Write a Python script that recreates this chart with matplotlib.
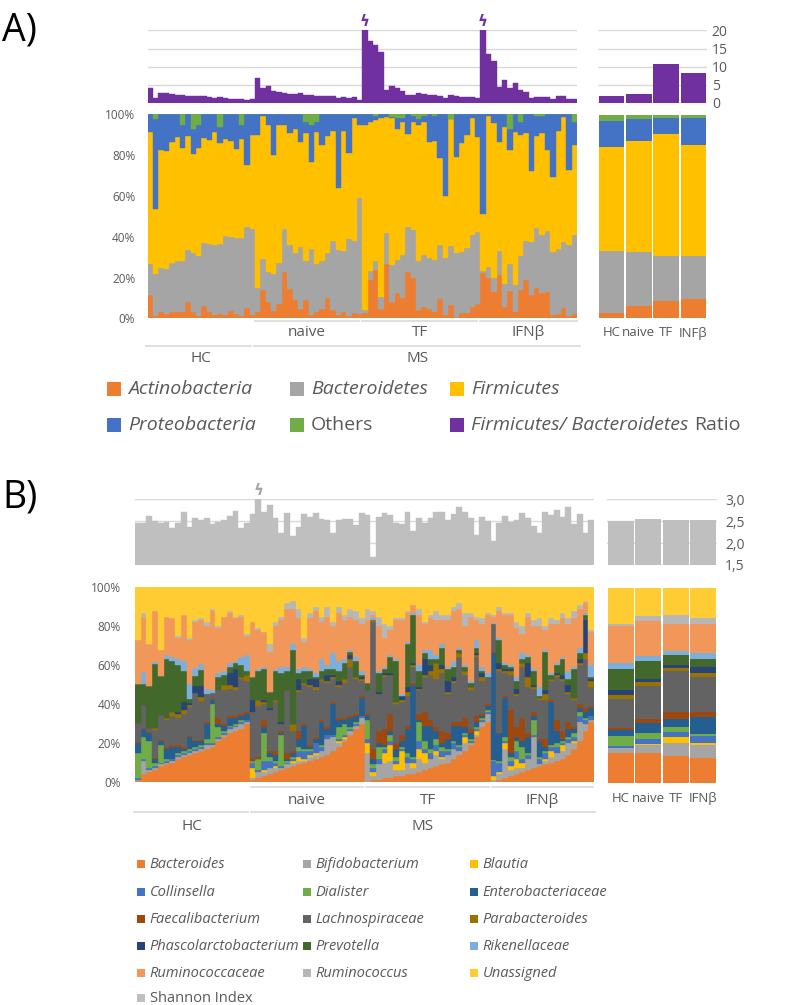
import matplotlib
matplotlib.use("Agg")
import matplotlib.pyplot as plt
from matplotlib.patches import Rectangle
from matplotlib.lines import Line2D
import numpy as np

plt.rcParams['font.family'] = ['Open Sans', 'DejaVu Sans']

TXT = '#595959'
GRID = '#D9D9D9'

# ---------------- data ----------------
group_names = ['HC', 'naive', 'TF', 'IFNβ']
group_sizes = [20, 20, 22, 18]
summary_labels_a = ['HC', 'naive', 'TF', 'INFβ']
summary_labels_b = ['HC', 'naive', 'TF', 'IFNβ']

# Panel A: phylum composition (%) per sample
actinobacteria = [11.4, 1.0, 3.0, 2.3, 3.3, 3.0, 3.0, 7.8, 3.3, 1.0, 6.2, 3.0, 1.6, 2.3, 1.6, 3.6, 2.3, 1.3, 4.9, 1.6,
                  3.0, 13.9, 8.2, 3.6, 7.0, 22.9, 14.2, 9.0, 4.4, 9.0, 1.6, 3.1, 4.4, 10.0, 4.0, 1.6, 3.3, 1.1, 2.5, 2.1,
                  2.5, 18.8, 23.7, 4.6, 26.5, 8.2, 12.6, 9.8, 22.9, 20.0, 4.0, 5.7, 4.6, 3.3, 9.5, 1.6, 6.5, 0.8, 2.5, 2.5, 5.7, 6.9,
                  22.4, 19.6, 13.0, 21.0, 5.7, 13.4, 3.3, 13.9, 18.8, 11.4, 14.7, 12.3, 13.0, 1.6, 2.0, 4.9, 1.3, 2.0]
bacteroidetes = [15.4, 20.5, 21.5, 21.7, 23.7, 25.0, 25.0, 25.7, 28.7, 29.4, 30.6, 33.5, 34.4, 34.3, 38.7, 36.4, 37.2, 38.2, 40.1, 42.4,
                 12.0, 15.1, 14.3, 18.1, 20.3, 20.7, 21.8, 23.0, 30.6, 19.0, 32.4, 23.5, 23.9, 22.0, 34.0, 31.9, 29.7, 37.6, 35.5, 56.9,
                 1.5, 4.4, 4.3, 6.0, 15.2, 17.8, 16.0, 21.2, 22.1, 23.3, 24.3, 25.3, 24.8, 25.3, 26.4, 27.8, 28.8, 31.1, 30.2, 32.1, 35.1, 35.6,
                 0.6, 5.4, 7.0, 12.0, 11.3, 13.1, 13.0, 16.6, 19.2, 26.2, 29.7, 28.5, 29.8, 31.1, 31.8, 32.7, 34.7, 38.8]
firmicutes = [64.4, 32.3, 58.0, 58.0, 59.5, 61.0, 55.5, 55.8, 48.7, 53.1, 51.7, 51.0, 55.3, 49.4, 47.7, 47.0, 43.5, 48.5, 30.0, 46.0,
              75.0, 70.0, 72.5, 58.3, 67.7, 51.4, 55.0, 61.0, 51.6, 62.7, 42.5, 64.9, 56.7, 57.5, 54.0, 30.2, 59.0, 42.3, 60.0, 35.8,
              91.0, 72.8, 69.0, 87.4, 56.8, 72.0, 64.4, 65.0, 45.5, 52.7, 66.7, 65.0, 57.2, 58.4, 42.5, 30.6, 62.2, 47.3, 53.1, 55.4, 57.2, 46.2,
              28.0, 74.0, 75.6, 53.6, 77.0, 56.0, 75.2, 59.4, 52.7, 34.8, 45.0, 50.2, 39.7, 36.4, 58.2, 60.9, 36.7, 44.2]
proteobacteria = [8.8, 43.7, 17.5, 18.0, 13.5, 11.0, 11.5, 10.7, 12.3, 11.5, 11.5, 12.5, 8.7, 8.0, 12.0, 13.0, 17.0, 7.0, 25.0, 10.0,
                  10.0, 1.0, 5.0, 20.0, 5.0, 5.0, 9.0, 7.0, 13.4, 5.3, 18.5, 4.5, 15.0, 10.5, 8.0, 36.3, 8.0, 19.0, 2.0, 5.2,
                  5.0, 4.0, 2.0, 2.0, 1.5, 0.5, 5.0, 2.0, 9.5, 3.0, 2.5, 3.0, 13.4, 12.0, 21.6, 40.0, 0.0, 20.8, 14.2, 10.0, 2.0, 11.3,
                  49.0, 1.0, 4.4, 13.4, 6.0, 10.5, 8.5, 6.1, 9.3, 27.6, 9.6, 8.0, 17.5, 30.9, 8.0, 1.5, 27.3, 11.4]
others = [0, 2.5, 0, 0, 0, 0, 5, 0, 7, 5, 0, 0, 0, 6, 0, 0, 0, 5, 0, 0,
          0, 0, 0, 0, 0, 0, 0, 0, 0, 4, 5, 4, 0, 0, 0, 0, 0, 0, 0, 0,
          0, 0, 1, 0, 0, 1.5, 2, 2, 0, 1, 2.5, 1, 0, 1, 0, 0, 2.5, 0, 0, 0, 0, 0,
          0, 0, 0, 0, 0, 7, 0, 4, 0, 0, 1, 1, 0, 0, 0, 0, 0, 3.6]
fb_ratio = [4.1, 1.3, 2.7, 2.7, 2.5, 2.3, 2.1, 2.0, 1.8, 2.0, 1.8, 1.6, 1.5, 1.6, 1.4, 1.2, 1.2, 1.0, 0.8, 1.1,
            6.9, 4.1, 4.6, 3.4, 2.9, 2.7, 2.5, 2.5, 2.7, 2.3, 2.1, 1.9, 1.9, 1.9, 1.8, 1.4, 1.6, 1.4, 1.6, 0.7,
            25.0, 17.2, 16.0, 14.1, 3.6, 4.8, 4.1, 3.2, 2.1, 2.2, 2.7, 2.5, 2.2, 2.2, 2.0, 1.3, 2.2, 2.0, 1.6, 1.6, 1.6, 1.4,
            25.0, 13.5, 11.6, 4.4, 6.3, 4.1, 5.5, 3.6, 2.9, 1.3, 1.6, 1.6, 1.6, 1.2, 2.0, 2.0, 1.2, 1.2]

sum_actino = [2.8, 6.1, 8.7, 9.4]
sum_bacter = [30.2, 26.6, 21.8, 21.1]
sum_firmic = [51.4, 54.7, 60.1, 54.7]
sum_proteo = [12.8, 11.0, 8.2, 13.3]
sum_others = [2.8, 1.6, 1.2, 1.5]
sum_ratio = [1.8, 2.4, 10.8, 8.4]

# Panel B: genus composition (%) per sample
bacteroides = [0.5, 4, 5, 6, 8, 9, 10, 12, 13, 14, 15, 16, 17, 18, 21, 23, 25, 26, 27, 30,
               1, 2, 3, 4, 5, 6, 7, 8, 9, 10, 11, 12, 13, 14, 16, 18, 21, 24, 27, 30,
               0, 1, 1, 2, 2, 3, 3, 4, 4, 5, 6, 7, 8, 9, 10, 12, 14, 16, 19, 23, 28, 31,
               0, 1, 2, 3, 4, 5, 6, 7, 8, 9, 10, 11, 12, 14, 17, 21, 26, 31]
bifidobacterium = [0.5, 7, 1, 1, 1, 1, 1, 1, 1, 1, 1, 1, 2, 1, 1, 1, 2, 2, 3, 1,
                   1, 3, 2, 3, 2, 1, 2, 2, 2, 1, 2, 2, 3, 8, 7, 2, 1, 2, 2, 3,
                   15, 2, 8, 8, 9, 3, 3, 6, 3, 7, 4, 5, 6, 3, 4, 5, 2, 4, 1, 1, 3, 4,
                   1, 3, 15, 3, 3, 2, 6, 16, 1, 2, 3, 4, 4, 6, 3, 10, 4, 1]
blautia = [0, 0, 0, 0, 0, 0, 0, 0, 0, 0, 0, 0, 0, 0, 0, 0, 0, 0, 0, 0,
           5, 0, 1, 0, 1, 0, 0, 1, 2, 1, 1, 1, 0, 0, 0, 1, 1, 0, 0, 0,
           5, 2, 0, 5, 8, 3, 10, 0, 3, 5, 5, 0, 2, 1, 0, 0, 0, 3, 0, 2, 0, 0,
           2, 1, 3, 2, 5, 3, 0, 0, 0, 1, 3, 0, 3, 0, 1, 0, 0, 0]
collinsella = [1, 1, 1, 1, 1, 1, 1, 1, 1, 1, 1, 1, 1, 1, 1, 1, 1, 1, 1, 1,
               3, 1, 5, 4, 2, 1, 1, 1, 3, 4, 2, 5, 2, 2, 1, 1, 1, 1, 1, 1,
               2, 2, 3, 2, 2, 2, 1, 3, 2, 4, 2, 3, 3, 3, 2, 3, 2, 1, 1, 1, 1, 1,
               8, 5, 1, 3, 4, 2, 2, 1, 3, 3, 2, 3, 1, 2, 2, 3, 2, 2]
dialister = [13, 11, 14, 2, 9, 1, 0, 1, 1, 1, 1, 1, 2, 20, 5, 1, 1, 1, 1, 0,
             1, 6, 14, 2, 1, 16, 1, 1, 2, 1, 1, 0, 1, 0, 0, 6, 6, 1, 1, 0,
             10, 2, 6, 1, 3, 2, 1, 2, 1, 10, 4, 2, 3, 2, 1, 1, 1, 1, 1, 1, 1, 1,
             0.5, 1, 2, 2, 5, 6, 1, 8, 1, 1, 1, 2, 1, 1, 2, 2, 1, 0]
enterobacteriaceae = [5, 4, 4, 2, 2, 5, 6, 3, 1, 6, 3, 2, 8, 2, 2, 3, 4, 3, 2, 3,
                      0, 0, 3, 2, 3, 1, 1, 2, 4, 12, 1, 2, 12, 3, 16, 4, 2, 5, 3, 9,
                      2, 3, 2, 1, 2, 4, 3, 12, 37, 1, 8, 12, 4, 2, 5, 8, 10, 3, 3, 3, 1, 2,
                      55, 14, 20, 2, 2, 3, 8, 2, 8, 2, 22, 6, 1, 4, 2, 2, 3, 4]
faecalibacterium = [0.5, 0.5, 0.5, 0.5, 0.5, 1, 1, 1, 1, 0.5, 0.5, 0.5, 1, 0.5, 3, 1, 1, 1, 1, 1,
                    1, 1, 4, 1, 2, 1, 3, 1, 4, 1, 1, 1, 1, 1, 1, 1, 1, 1, 1, 1,
                    1, 5, 6, 8, 9, 3, 3, 2, 1, 3, 7, 3, 2, 6, 3, 2, 2, 5, 2, 3, 1, 1,
                    0.5, 0, 1, 22, 5, 12, 2, 2, 1, 4, 1, 6, 4, 4, 1, 2, 2, 1]
lachnospiraceae = [10, 12, 2, 14, 13, 14, 15, 14, 17, 15, 24, 20, 14, 3, 14, 17, 14, 13, 18, 16,
                   24, 26, 8, 21, 25, 4, 32, 10, 20, 20, 30, 24, 20, 23, 12, 16, 18, 25, 18, 8,
                   12, 65, 19, 27, 20, 20, 17, 15, 8, 12, 18, 23, 25, 30, 20, 20, 33, 22, 20, 30, 17, 14,
                   14, 32, 12, 18, 16, 26, 24, 12, 20, 20, 10, 22, 26, 14, 14, 20, 25, 10]
parabacteroides = [0, 0, 0, 1, 0, 1, 2, 2, 2, 1, 0, 2, 0, 0, 0, 3, 2, 2, 1, 3,
                   0, 3, 1, 0, 1, 0, 0, 4, 1, 1, 1, 2, 1, 1, 1, 1, 2, 4, 1, 1,
                   0, 1, 0, 1, 0, 1, 1, 2, 1, 1, 1, 2, 8, 2, 1, 1, 2, 2, 2, 1, 2, 0,
                   0, 1, 1, 2, 1, 2, 5, 1, 1, 3, 1, 1, 1, 1, 1, 1, 3, 3]
phascolarctobacterium = [0, 0, 0, 0, 0, 0, 0, 1, 4, 1, 4, 6, 0, 0, 0, 0, 6, 9, 0, 0,
                         6, 0, 1, 1, 0, 1, 0, 0, 6, 0, 3, 4, 0, 3, 1, 2, 0, 2, 0, 1,
                         0, 0, 1, 1, 1, 0, 2, 3, 1, 1, 8, 3, 0, 2, 6, 2, 0, 0, 0, 1, 2, 0,
                         0, 3, 1, 1, 3, 0, 7, 1, 0, 2, 0, 1, 2, 4, 0, 2, 17, 1]
prevotella = [20, 11, 22, 33, 20, 30, 26, 24, 16, 2, 5, 8, 0, 0, 7, 5, 3, 3, 6, 2,
              12, 15, 16, 8, 15, 25, 10, 38, 3, 6, 4, 1, 4, 3, 3, 5, 8, 2, 8, 1,
              4, 0, 10, 2, 8, 21, 0, 22, 25, 8, 3, 3, 2, 9, 6, 5, 2, 2, 2, 3, 1, 0,
              0, 12, 2, 1, 4, 2, 3, 7, 1, 20, 2, 4, 8, 3, 15, 3, 3, 1]
rikenellaceae = [0, 6, 0, 1, 0, 2, 2, 3, 5, 8, 4, 3, 3, 2, 2, 2, 2, 1, 4, 8,
                 0, 1, 1, 0, 1, 3, 2, 3, 2, 2, 1, 2, 6, 2, 8, 5, 2, 1, 2, 2,
                 0, 1, 1, 1, 1, 1, 1, 1, 1, 3, 2, 5, 2, 2, 1, 3, 1, 1, 1, 4, 2, 2,
                 0.5, 1, 1, 1, 2, 3, 1, 1, 5, 1, 1, 1, 1, 4, 1, 3, 1, 6]
ruminococcaceae = [22.5, 28.5, 21.5, 26.5, 13.5, 20, 20, 11, 24, 22.5, 23.5, 22.5, 32, 40.5, 23, 28, 26, 22, 21, 10,
                   28, 20, 18, 21, 22, 24, 30, 18, 26, 13, 26, 32, 19, 25, 14, 25, 20, 17, 19, 24,
                   32, 2, 23, 15, 13, 20, 38, 15, 4, 26, 13, 16, 18, 12, 24, 26, 20, 20, 33, 10, 22, 30,
                   3, 14, 25, 26, 25, 10, 20, 22, 31, 10, 25, 20, 20, 24, 25, 20, 5, 17]
ruminococcus = [0, 2, 0, 0, 0, 0, 0, 1, 0, 1, 1, 1, 2, 1, 1, 0, 1, 1, 1, 1,
                0, 1, 0, 4, 2, 2, 3, 4, 5, 2, 3, 2, 3, 5, 2, 3, 3, 4, 5, 3,
                6, 2, 5, 7, 2, 1, 1, 1, 0, 3, 1, 2, 5, 3, 3, 2, 3, 7, 2, 2, 3, 1,
                1.5, 2, 1, 1, 3, 4, 2, 3, 4, 2, 3, 2, 3, 3, 4, 2, 1, 1]
unassigned = [27, 13, 29, 12, 32, 15, 16, 25, 14, 26, 17, 16, 18, 11, 20, 15, 12, 15, 14, 24,
              18, 21, 23, 29, 18, 15, 8, 7, 11, 26, 13, 10, 15, 10, 18, 10, 14, 11, 12, 16,
              11, 12, 15, 19, 20, 16, 16, 12, 9, 11, 18, 14, 12, 14, 14, 10, 8, 13, 13, 15, 16, 13,
              14, 10, 13, 13, 18, 20, 13, 17, 16, 20, 16, 17, 13, 16, 12, 9, 7, 22]
shannon = [2.47, 2.47, 2.62, 2.51, 2.47, 2.49, 2.34, 2.45, 2.70, 2.36, 2.57, 2.53, 2.57, 2.44, 2.49, 2.53, 2.62, 2.74, 2.34, 2.45,
           2.66, 3.10, 2.70, 2.87, 2.58, 2.22, 2.68, 2.16, 2.37, 2.66, 2.60, 2.68, 2.54, 2.53, 2.22, 2.53, 2.54, 2.56, 2.41, 2.68,
           2.64, 1.68, 2.59, 2.68, 2.64, 2.47, 2.44, 2.70, 2.28, 2.57, 2.47, 2.57, 2.70, 2.71, 2.53, 2.66, 2.82, 2.70, 2.57, 2.19, 2.59, 2.51,
           2.05, 2.45, 2.62, 2.49, 2.53, 2.68, 2.57, 2.39, 2.24, 2.72, 2.64, 2.76, 2.60, 2.82, 2.44, 2.66, 2.24, 2.53]

sum_genus = {
    'Bacteroides': [15.3, 15.7, 14.0, 12.9],
    'Bifidobacterium': [2.6, 3.9, 6.4, 6.5],
    'Blautia': [0.3, 0.5, 3.1, 1.2],
    'Collinsella': [0.8, 2.4, 2.6, 3.6],
    'Dialister': [5.4, 3.1, 2.9, 1.0],
    'Enterobacteriaceae': [2.7, 5.1, 3.7, 8.5],
    'Faecalibacterium': [1.2, 2.0, 3.6, 2.6],
    'Lachnospiraceae': [14.8, 17.2, 21.3, 18.2],
    'Parabacteroides': [2.2, 2.1, 1.5, 1.7],
    'Phascolarctobacterium': [2.3, 1.5, 1.4, 3.1],
    'Prevotella': [10.9, 9.2, 5.1, 4.4],
    'Rikenellaceae': [3.0, 2.4, 2.2, 2.7],
    'Ruminococcaceae': [18.8, 17.9, 13.6, 15.0],
    'Ruminococcus': [1.3, 2.7, 4.5, 3.3],
    'Unassigned': [18.6, 14.3, 14.1, 15.3],
}
sum_shannon = [2.50, 2.56, 2.52, 2.52]

phyla_names = ['Actinobacteria', 'Bacteroidetes', 'Firmicutes', 'Proteobacteria', 'Others']
phyla_colors = ['#ED7D31', '#A5A5A5', '#FFC000', '#4472C4', '#70AD47']
ratio_color = '#7030A0'
genus_names = list(sum_genus.keys())
genus_series = [bacteroides, bifidobacterium, blautia, collinsella, dialister, enterobacteriaceae,
                faecalibacterium, lachnospiraceae, parabacteroides, phascolarctobacterium, prevotella,
                rikenellaceae, ruminococcaceae, ruminococcus, unassigned]
genus_colors = ['#ED7D31', '#A5A5A5', '#FFC000', '#4472C4', '#70AD47', '#255E91', '#9E480E', '#636363',
                '#997300', '#264478', '#43682B', '#7CAFDD', '#F1975A', '#B7B7B7', '#FFCD33']
shannon_color = '#BFBFBF'

# ---------------- figure helpers ----------------
W, H = 790, 1005
fig = plt.figure(figsize=(W / 100, H / 100), dpi=100)


def add_ax(x0, y0, x1, y1):
    ax = fig.add_axes([x0 / W, 1 - y1 / H, (x1 - x0) / W, (y1 - y0) / H])
    for s in ax.spines.values():
        s.set_visible(False)
    ax.tick_params(length=0, colors=TXT)
    return ax


def px_text(x, y, s, **kw):
    kw.setdefault('color', TXT)
    return fig.text(x / W, 1 - y / H, s, **kw)


def px_line(x0, x1, y, color=GRID, lw=1.2):
    fig.add_artist(Line2D([x0 / W, x1 / W], [1 - y / H, 1 - y / H], color=color, lw=lw))


def px_rect(x, y, w, h, color):
    fig.add_artist(Rectangle((x / W, 1 - (y + h) / H), w / W, h / H, transform=fig.transFigure,
                             facecolor=color, edgecolor='none'))


def stacked(ax, series, colors, width, edge=True):
    x = np.arange(len(series[0]))
    bottom = np.zeros(len(x))
    for vals, c in zip(series, colors):
        v = np.asarray(vals, float)
        if edge:
            ax.bar(x, v, bottom=bottom, width=width, color=c, edgecolor=c, linewidth=0.3)
        else:
            ax.bar(x, v, bottom=bottom, width=width, color=c, linewidth=0)
        bottom += v
    ax.set_xlim(-0.5, len(x) - 0.5)
    ax.set_ylim(0, 100)
    ax.set_xticks([])


n = sum(group_sizes)

# ================= Panel A =================
px_text(2, 30, 'A)', fontsize=27, color='black', va='center', ha='left')

# ratio bars
axr = add_ax(147.7, 30.5, 577, 103)
axr.bar(np.arange(n), fb_ratio, width=1.0, color=ratio_color, edgecolor=ratio_color, linewidth=0.3, zorder=2)
axr.set_xlim(-0.5, n - 0.5)
axr.set_ylim(0, 20)
axr.set_yticks([5, 10, 15, 20])
axr.yaxis.grid(True, color=GRID, lw=1.0, zorder=0)
axr.set_axisbelow(True)
axr.set_yticklabels([])
axr.set_xticks([])
for i, v in enumerate(fb_ratio):
    if v > 20:
        axr.text(i, 20.3, 'ϟ', ha='center', va='bottom', color=ratio_color, fontsize=11,
                 family='DejaVu Sans', fontweight='bold', clip_on=False)

axrs = add_ax(598, 30.5, 707, 103)
axrs.bar(np.arange(4), sum_ratio, width=0.94, color=ratio_color, zorder=2)
axrs.set_xlim(-0.5, 3.5)
axrs.set_ylim(0, 20)
axrs.set_yticks([0, 5, 10, 15, 20])
axrs.yaxis.grid(True, color=GRID, lw=1.0, zorder=0)
axrs.set_axisbelow(True)
axrs.yaxis.tick_right()
axrs.tick_params(axis='y', pad=3.5, labelsize=10, colors=TXT)
axrs.set_xticks([])

# stacked phyla
axa = add_ax(147.7, 114.3, 577, 318.3)
stacked(axa, [actinobacteria, bacteroidetes, firmicutes, proteobacteria, others], phyla_colors, 1.0)
axa.set_yticks([0, 20, 40, 60, 80, 100])
axa.set_yticklabels(['0%', '20%', '40%', '60%', '80%', '100%'])
axa.tick_params(axis='y', pad=9, labelsize=8.5)

axas = add_ax(598, 115.3, 707, 318.3)
stacked(axas, [sum_actino, sum_bacter, sum_firmic, sum_proteo, sum_others], phyla_colors, 0.94, edge=False)
axas.set_yticks([])
for k, lab in enumerate(summary_labels_a):
    px_text(598 + 27.25 * (k + 0.5), 333, lab, fontsize=9.5, ha='center', va='center')

# group brackets A
x0a, wa = 147.7, (577 - 147.7) / n
bounds = np.cumsum([0] + group_sizes)
for g in range(1, 4):
    xa = x0a + bounds[g] * wa - 1.5
    xb = x0a + bounds[g + 1] * wa - 1.5
    if g == 3:
        xb += 2.5
    px_line(xa + 1.5, xb - 1.5, 321)
    px_text((xa + xb) / 2, 333, group_names[g], fontsize=11, ha='center', va='center')
px_line(146, x0a + bounds[1] * wa - 4, 346)
px_line(x0a + bounds[1] * wa - 1.5, 580, 346)
px_text((146 + x0a + bounds[1] * wa) / 2, 358, 'HC', fontsize=11, ha='center', va='center')
px_text((x0a + bounds[1] * wa + 580) / 2, 358, 'MS', fontsize=11, ha='center', va='center')

# legend A
renderer = fig.canvas.get_renderer()
leg_a = [(107, 389, 0), (290, 389, 1), (450, 389, 2), (107, 425, 3), (290, 425, 4)]
for x, y, k in leg_a:
    px_rect(x, y - 7, 14, 14, phyla_colors[k])
    px_text(x + 21, y, phyla_names[k], fontsize=14, va='center', ha='left',
            style='normal' if phyla_names[k] == 'Others' else 'italic')
px_rect(450, 425 - 7, 14, 14, ratio_color)
t1 = px_text(471, 425, 'Firmicutes/ Bacteroidetes', fontsize=14, va='center', ha='left', style='italic')
bb = t1.get_window_extent(renderer=renderer)
px_text(bb.x1 + 6, 425, 'Ratio', fontsize=14, va='center', ha='left')

# ================= Panel B =================
px_text(2, 497, 'B)', fontsize=27, color='black', va='center', ha='left')

axsh = add_ax(135, 499.3, 594, 565)
axsh.bar(np.arange(n), shannon, width=1.0, color=shannon_color, edgecolor=shannon_color, linewidth=0.3, zorder=2)
axsh.set_xlim(-0.5, n - 0.5)
axsh.set_ylim(1.5, 3.0)
axsh.set_yticks([1.5, 2.0, 2.5, 3.0])
axsh.yaxis.grid(True, color=GRID, lw=1.0, zorder=0)
axsh.set_axisbelow(True)
axsh.set_yticklabels([])
axsh.set_xticks([])
for i, v in enumerate(shannon):
    if v > 3.0:
        axsh.text(i, 3.02, 'ϟ', ha='center', va='bottom', color='#A5A5A5', fontsize=11,
                  family='DejaVu Sans', fontweight='bold', clip_on=False)

axshs = add_ax(607.3, 499.3, 716.7, 565)
axshs.bar(np.arange(4), sum_shannon, width=0.94, color=shannon_color, zorder=2)
axshs.set_xlim(-0.5, 3.5)
axshs.set_ylim(1.5, 3.0)
axshs.set_yticks([1.5, 2.0, 2.5, 3.0])
axshs.set_yticklabels(['1,5', '2,0', '2,5', '3,0'])
axshs.yaxis.grid(True, color=GRID, lw=1.0, zorder=0)
axshs.set_axisbelow(True)
axshs.yaxis.tick_right()
axshs.tick_params(axis='y', pad=6, labelsize=10, colors=TXT)
axshs.set_xticks([])

axb = add_ax(135, 587.3, 594, 782)
stacked(axb, genus_series, genus_colors, 1.0)
axb.set_yticks([0, 20, 40, 60, 80, 100])
axb.set_yticklabels(['0%', '20%', '40%', '60%', '80%', '100%'])
axb.tick_params(axis='y', pad=10, labelsize=8.5)

axbs = add_ax(607.3, 587.7, 716.7, 783.3)
stacked(axbs, [sum_genus[g] for g in genus_names], genus_colors, 0.94, edge=False)
axbs.set_yticks([])
for k, lab in enumerate(summary_labels_b):
    px_text(607.3 + 27.35 * (k + 0.5), 798, lab, fontsize=9.5, ha='center', va='center')

x0b, wb = 135, (594 - 135) / n
for g in range(1, 4):
    xa = x0b + bounds[g] * wb
    xb = x0b + bounds[g + 1] * wb
    px_line(xa + 1, xb - 1.5, 787)
    px_text((xa + xb) / 2, 800, group_names[g], fontsize=11, ha='center', va='center')
px_line(134, x0b + bounds[1] * wb - 2, 812)
px_line(x0b + bounds[1] * wb + 1, 595, 812)
px_text((134 + x0b + bounds[1] * wb) / 2, 826, 'HC', fontsize=11, ha='center', va='center')
px_text((x0b + bounds[1] * wb + 595) / 2, 826, 'MS', fontsize=11, ha='center', va='center')

# legend B
col_x = [137, 303, 470]
row_y = [864, 892, 919, 946, 973]
for k, name in enumerate(genus_names):
    r, c = divmod(k, 3)
    px_rect(col_x[c], row_y[r] - 4.2, 8.4, 8.4, genus_colors[k])
    px_text(col_x[c] + 12.5, row_y[r], name, fontsize=10.5, va='center', ha='left', style='italic')
px_rect(col_x[0], 998 - 4.2, 8.4, 8.4, shannon_color)
px_text(col_x[0] + 12.5, 998, 'Shannon Index', fontsize=10.5, va='center', ha='left')

fig.savefig('out.png', dpi=100)
